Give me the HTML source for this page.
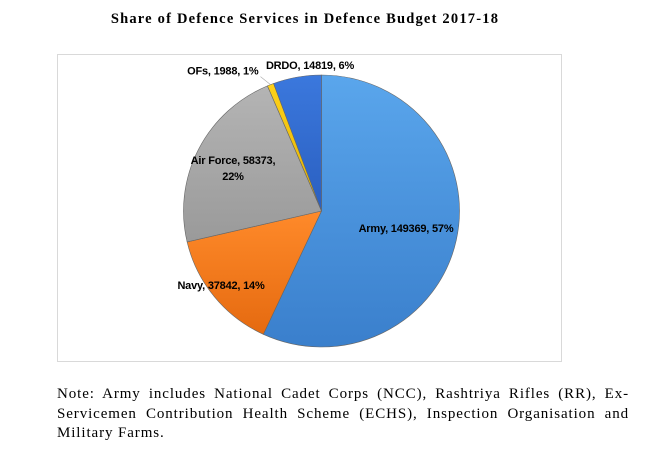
<!DOCTYPE html>
<html><head><meta charset="utf-8"><style>
html,body{margin:0;padding:0;background:#fff;width:663px;height:462px;overflow:hidden;position:relative}
#title{position:absolute;left:0;width:610px;top:11px;text-align:center;font:bold 14.5px "Liberation Serif",serif;letter-spacing:1.2px;color:#000}
#frame{position:absolute;left:57px;top:54px;width:503px;height:306px;border:1px solid #d9d9d9}
#note{position:absolute;left:57px;top:385px;width:572px;font:15px/19.5px "Liberation Serif",serif;letter-spacing:0.9px;color:#000}
#note div{text-align:justify;text-align-last:justify;white-space:nowrap}
#note div.last{text-align-last:left}
svg{position:absolute;left:0;top:0}
.lbl{font:bold 11px "Liberation Sans",sans-serif;fill:#000;letter-spacing:-0.2px}
</style></head><body>
<div id="title">Share of Defence Services in Defence Budget 2017-18</div>
<div id="frame"></div>
<svg id="chart" width="663" height="462">
<defs>
<linearGradient id="g0" x1="0" y1="0" x2="0" y2="1"><stop offset="0" stop-color="#5aa6ec"/><stop offset="1" stop-color="#3a7fcc"/></linearGradient>
<linearGradient id="g1" x1="0" y1="0" x2="0" y2="1"><stop offset="0" stop-color="#ff8a2a"/><stop offset="1" stop-color="#e56a10"/></linearGradient>
<linearGradient id="g2" x1="0" y1="0" x2="0" y2="1"><stop offset="0" stop-color="#b4b4b4"/><stop offset="1" stop-color="#9a9a9a"/></linearGradient>
<linearGradient id="g3" x1="0" y1="0" x2="0" y2="1"><stop offset="0" stop-color="#ffd21a"/><stop offset="1" stop-color="#e0b000"/></linearGradient>
<linearGradient id="g4" x1="0" y1="0" x2="0" y2="1"><stop offset="0" stop-color="#3b78dd"/><stop offset="1" stop-color="#2a5fc0"/></linearGradient>
</defs>
</svg>
<div id="note"><div>Note: Army includes National Cadet Corps (NCC), Rashtriya Rifles (RR), Ex-</div><div>Servicemen Contribution Health Scheme (ECHS), Inspection Organisation and</div><div class="last">Military Farms.</div></div>
<script>
const categories = ["Army","Navy","Air Force","OFs","DRDO"];
const values = [149369, 37842, 58373, 1988, 14819];
const percents = ["57%","14%","22%","1%","6%"];
const fills = ["url(#g0)","url(#g1)","url(#g2)","url(#g3)","url(#g4)"];
const cx=321.5, cy=211, rx=138, ry=136;
const svg=document.getElementById('chart');
const NS='http://www.w3.org/2000/svg';
const total=values.reduce((a,b)=>a+b,0);
function pt(a,f){return [cx+rx*f*Math.sin(a), cy-ry*f*Math.cos(a)];}
let a0=0;
const labelPos=[];
values.forEach((v,i)=>{
  const a1=a0+v/total*2*Math.PI;
  const p0=pt(a0,1), p1=pt(a1,1);
  const large=(a1-a0)>Math.PI?1:0;
  const p=document.createElementNS(NS,'path');
  p.setAttribute('d',`M${cx},${cy} L${p0[0]},${p0[1]} A${rx},${ry} 0 ${large} 1 ${p1[0]},${p1[1]} Z`);
  p.setAttribute('fill',fills[i]);
  p.setAttribute('stroke','#666');
  p.setAttribute('stroke-width','0.6');
  
  
  svg.appendChild(p);
  labelPos.push((a0+a1)/2);
  a0=a1;
});
function addText(lines,x,y,anchor,name){
  const t=document.createElementNS(NS,'text');
  t.setAttribute('class','lbl');
  t.setAttribute('text-anchor',anchor);
  
  
  lines.forEach((l,k)=>{const s=document.createElementNS(NS,'tspan');s.setAttribute('x',x);s.setAttribute('y',y+k*16);s.textContent=l;t.appendChild(s);});
  svg.appendChild(t);
}
const lab=i=>categories[i]+', '+values[i]+', '+percents[i];
addText([lab(0)],406,232,'middle','label-army');
addText([lab(1)],221,289,'middle','label-navy');
addText([categories[2]+', '+values[2]+',',percents[2]],233,164,'middle','label-air-force');
let p=pt(labelPos[3],1); addText([lab(3)],p[0]-12,p[1]-10,'end','label-ofs');
addText([lab(4)],310,69,'middle','label-drdo');
const ln=document.createElementNS(NS,'line');
ln.setAttribute('x1',p[0]-10);ln.setAttribute('y1',p[1]-8);ln.setAttribute('x2',p[0]);ln.setAttribute('y2',p[1]);
ln.setAttribute('stroke','#aaa');ln.setAttribute('stroke-width','0.6');


svg.appendChild(ln);
</script>
</body></html>
